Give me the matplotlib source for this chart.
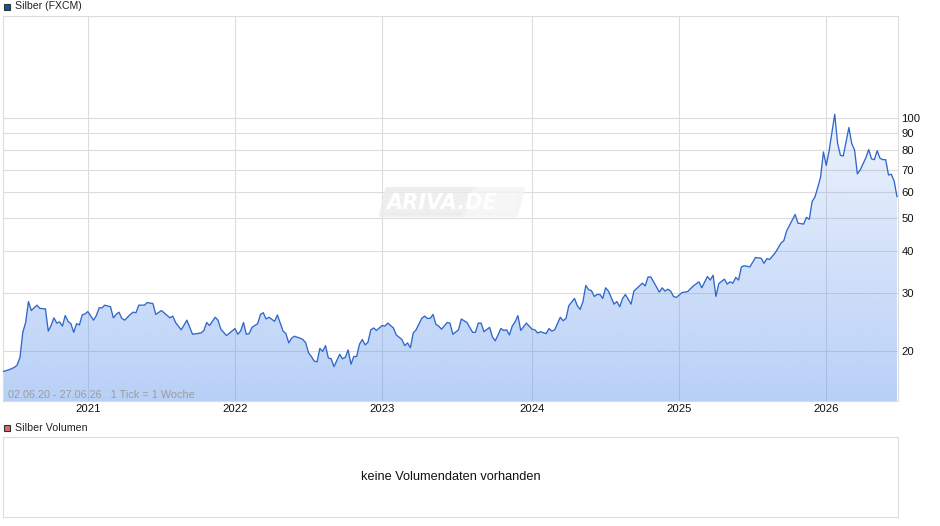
import numpy as np
import pandas as pd
import matplotlib
matplotlib.use('Agg')
import matplotlib.pyplot as plt
from matplotlib.patches import Polygon, Rectangle
from matplotlib.ticker import NullLocator
from matplotlib.transforms import IdentityTransform

plt.rcParams['font.family'] = ['Liberation Sans', 'DejaVu Sans']

# weeks since 02.06.20
weeks = [0, 2, 4, 5, 6, 7, 8, 9, 10, 12, 13, 15, 16, 17, 18, 19, 20, 21, 22, 23, 24, 25, 26, 27, 28, 29, 30, 32, 33, 34,
         35, 36, 38, 39, 40, 41, 42, 43, 45, 46, 47, 48, 50, 51, 53, 54, 56, 59, 60, 61, 63, 65, 67, 70, 71, 72, 73, 75, 76, 77,
         79, 82, 83, 84, 85, 86, 87, 88, 90, 91, 92, 93, 94, 96, 97, 99, 100, 101, 102, 103, 105,
         106, 107, 108, 109, 110, 111, 112, 113, 114, 115, 116, 117, 119, 120, 121, 122, 123, 124, 125, 126, 127, 128, 129, 130, 131, 132,
         134, 135, 136, 138, 139, 141, 142, 143, 144, 145, 146, 148, 149, 150, 151, 152, 153, 154, 155, 157, 158, 159, 161, 162, 164,
         166, 167, 168, 169, 170, 172, 173, 174, 176, 177, 178, 179, 180, 181, 182, 183, 185, 187, 188, 189, 190, 192, 193, 194, 195,
         197, 198, 199, 200, 202, 203, 204, 205, 206, 207, 208, 209, 210, 211,
         212, 213, 214, 216, 217, 218, 219, 220, 222, 223, 226, 227, 228, 229, 232, 233, 234, 235, 236, 237, 238, 240, 242, 244, 246, 247,
         249, 250, 251, 252, 253, 255, 256, 257, 258, 259, 260, 261, 262, 264, 266, 268, 269, 270, 271, 273, 275, 276, 277, 280, 281, 283,
         284, 285, 286, 287, 288, 289, 290, 291, 292, 294, 295, 296, 297, 299, 300, 301, 302, 303, 305, 306, 307, 308, 309, 310, 311, 312,
         313, 314, 315, 316]
prices = [17.4, 17.6, 17.9, 18.2, 19.2, 22.8, 24.4, 28.2, 26.5, 27.5, 26.9, 26.8, 23.0, 23.9, 25.2, 24.3, 24.5, 23.8, 25.6, 24.6, 24.2, 22.8, 24.2, 24.0, 25.7, 25.9, 26.3, 24.8, 25.6, 27.0,
          27.0, 27.5, 27.2, 25.2, 25.8, 26.2, 25.1, 24.8, 25.8, 26.2, 26.1, 27.5, 27.5, 28.0, 27.8, 25.8, 26.5, 25.2, 25.5, 24.4, 23.2, 24.8, 22.5, 22.7, 23.1, 24.4, 23.9, 25.3, 24.8, 23.3,
          22.3, 23.4, 22.5, 23.0, 24.4, 22.5, 22.6, 23.6, 24.2, 25.8, 26.1, 25.0, 25.3, 24.6, 25.7, 23.0, 22.6, 21.2, 21.9, 22.2, 21.9,
          21.7, 21.2, 19.8, 19.3, 18.7, 18.6, 20.4, 20.0, 20.8, 19.1, 19.0, 18.0, 19.6, 19.0, 19.2, 20.2, 18.3, 19.3, 19.3, 21.0, 21.7, 20.9, 21.3, 23.2, 23.5, 23.1,
          23.9, 23.8, 24.3, 23.5, 22.4, 21.7, 20.8, 21.2, 20.5, 22.7, 23.2, 25.1, 25.5, 25.1, 25.1, 25.8, 24.1, 23.8, 23.3, 24.4, 24.3, 22.5, 23.2, 25.0, 24.4,
          22.8, 22.8, 24.3, 24.3, 22.9, 23.6, 22.1, 21.5, 23.4, 23.1, 23.2, 22.4, 23.8, 24.5, 25.6, 23.1, 24.3, 23.3, 23.2, 22.7, 22.9, 22.6, 23.4, 23.0, 23.2,
          25.3, 24.7, 25.1, 27.4, 28.8, 27.4, 26.7, 28.2, 31.5, 30.6, 30.4, 29.2, 29.6, 29.6,
          28.8, 31.0, 30.3, 27.7, 28.2, 27.2, 28.8, 29.6, 27.7, 30.3, 32.0, 31.4, 33.4, 33.4, 30.1, 31.0, 30.3, 30.7, 30.3, 29.2, 29.0, 30.0, 30.2, 31.4, 32.3, 31.0,
          33.5, 32.7, 33.8, 29.2, 31.9, 32.9, 31.8, 32.3, 32.0, 33.3, 32.7, 35.8, 36.1, 35.8, 38.2, 38.0, 36.7, 37.9, 37.7, 39.5, 42.2, 42.9, 45.9, 51.4, 48.4, 48.1,
          50.4, 49.7, 56.2, 58.0, 61.9, 66.6, 79.1, 72.1, 79.7, 102.6, 84.0, 77.3, 76.9, 93.6, 83.8, 80.2, 68.0, 69.9, 76.0, 80.4, 75.4, 75.0, 79.8, 75.7, 75.0, 75.0,
          67.5, 67.8, 64.7, 58.1]
y_ticks = [20, 30, 40, 50, 60, 70, 80, 90, 100]
years = [2021, 2022, 2023, 2024, 2025, 2026]
year_weeks = [30, 82, 134, 187, 239, 291]

W, H = 940, 526
start = pd.Timestamp('2020-06-02')
x = start + pd.to_timedelta(np.array(weeks) * 7, unit='D')
y = np.array(prices)
xmax = start + pd.Timedelta(days=316 * 7 + 2.5)

fig = plt.figure(figsize=(W / 100, H / 100), dpi=100)

# main panel, pixel box 3..898 / 16..401
ax = fig.add_axes([3 / W, 1 - 401 / H, 895 / W, 385 / H])
ax.set_yscale('log')
ax.set_xlim(start, xmax)
ax.set_ylim(14.2, 202)

ax.yaxis.set_minor_locator(NullLocator())
ax.yaxis.set_minor_formatter(plt.NullFormatter())
ax.yaxis.tick_right()
ax.set_yticks(y_ticks, [str(v) for v in y_ticks])
ax.set_xticks(start + pd.to_timedelta(np.array(year_weeks) * 7, unit='D'), [str(yr) for yr in years])
ax.tick_params(axis='both', length=0, labelsize=8.1, colors='#111111')
ax.tick_params(axis='y', pad=2.5)
ax.tick_params(axis='x', pad=2)
ax.grid(True, color='#dcdcdc', lw=0.8)
ax.set_axisbelow(True)
for s in ax.spines.values():
    s.set_color('#dcdcdc')
    s.set_linewidth(0.8)

# area under the line, fading upwards
poly = ax.fill_between(x, y, 14.2, color='none', lw=0)
rgba = np.zeros((256, 1, 4))
rgba[..., 0], rgba[..., 1], rgba[..., 2] = 0.40, 0.60, 0.93
rgba[:, 0, 3] = np.linspace(0.46, 0.12, 256)
top = (401 - 113) / 385
im = ax.imshow(rgba, extent=[0, 1, 0, top], origin='lower', transform=ax.transAxes, aspect='auto', zorder=2, interpolation='bilinear')
im.set_clip_path(poly.get_paths()[0], transform=ax.transData)
ax.set_xlim(start, xmax)
ax.set_ylim(14.2, 202)

ax.plot(x, y, color='#3068c8', lw=0.95, zorder=3, solid_joinstyle='round')

ax.text(8 / W, 1 - 395 / H, '02.06.20 - 27.06.26   1 Tick = 1 Woche', transform=fig.transFigure, color='#9c9c9c', fontsize=7.8, va='center', zorder=4)


def px(xp, yp):
    return xp / W, 1 - yp / H


# watermark
fig.add_artist(Polygon([px(387, 189), px(475, 189), px(464, 215), px(381, 215)], closed=True, transform=fig.transFigure, fc='#ececec', ec='#ececec', lw=3, joinstyle='round', alpha=0.8, zorder=5))
fig.add_artist(Polygon([px(475, 189), px(523, 189), px(516, 215), px(464, 215)], closed=True, transform=fig.transFigure, fc='#f4f4f4', ec='#f4f4f4', lw=3, joinstyle='round', alpha=0.8, zorder=5))
fig.text(386 / W, 1 - 203 / H, 'ARIVA.DE', color='white', fontsize=15, family='DejaVu Sans', style='italic', weight='bold', va='center', zorder=6)

# legend squares and titles
identity = IdentityTransform()
fig.add_artist(Rectangle((3.5, H - 9.5), 6, 6, transform=identity, fc='#1550b0', ec='#333333', lw=0.8))
fig.text(15 / W, 1 - 6 / H, 'Silber (FXCM)', fontsize=7.6, color='#222222', va='center')
fig.add_artist(Rectangle((3.5, H - 431), 6, 6, transform=identity, fc='#d96b6b', ec='#333333', lw=0.8))
fig.text(15 / W, 1 - 428 / H, 'Silber Volumen', fontsize=7.7, color='#222222', va='center')

# empty volume panel
ax2 = fig.add_axes([3 / W, 1 - 517 / H, 895 / W, 80 / H])
ax2.set_xticks([])
ax2.set_yticks([])
for s in ax2.spines.values():
    s.set_color('#dcdcdc')
    s.set_linewidth(0.8)
ax2.text(0.5, 0.5, 'keine Volumendaten vorhanden', transform=ax2.transAxes, ha='center', va='center', fontsize=9.15, color='#111111')

fig.savefig('out.png', dpi=100)
